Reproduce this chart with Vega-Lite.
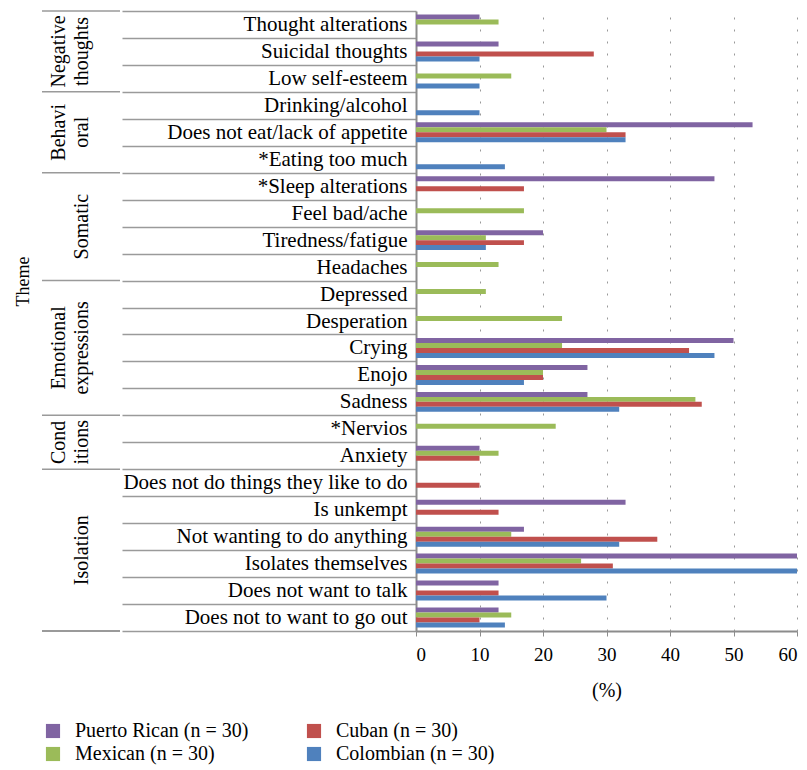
{
  "$schema": "https://vega.github.io/schema/vega-lite/v6.json",
  "padding": {"left": 14, "top": 0, "right": 0, "bottom": 2},
  "background": "white",
  "config": {
    "view": {"stroke": null},
    "font": "Liberation Serif",
    "axis": {"labelFont": "Liberation Serif", "titleFont": "Liberation Serif", "labelColor": "#000000", "titleColor": "#000000", "titleFontWeight": "normal"},
    "legend": {"labelFont": "Liberation Serif"},
    "text": {"font": "Liberation Serif"}
  },
  "datasets": {
    "themes": [
      {"theme": "Negative thoughts", "firstRow": 0, "midRow": 1.5, "line1": "Negative", "line2": "thoughts"},
      {"theme": "Behavioral", "firstRow": 3, "midRow": 4.5, "line1": "Behavi", "line2": "oral"},
      {"theme": "Somatic", "firstRow": 6, "midRow": 8, "line1": "", "line2": "Somatic"},
      {"theme": "Emotional expressions", "firstRow": 10, "midRow": 12.5, "line1": "Emotional", "line2": "expressions"},
      {"theme": "Conditions", "firstRow": 15, "midRow": 16, "line1": "Cond", "line2": "itions"},
      {"theme": "Isolation", "firstRow": 17, "midRow": 20, "line1": "", "line2": "Isolation"}
    ],
    "symptoms": [
      {"symptom": "Thought alterations", "nationality": "Puerto Rican (n = 30)", "pct": 10},
      {"symptom": "Thought alterations", "nationality": "Mexican (n = 30)", "pct": 13},
      {"symptom": "Suicidal thoughts", "nationality": "Puerto Rican (n = 30)", "pct": 13},
      {"symptom": "Suicidal thoughts", "nationality": "Cuban (n = 30)", "pct": 28},
      {"symptom": "Suicidal thoughts", "nationality": "Colombian (n = 30)", "pct": 10},
      {"symptom": "Low self-esteem", "nationality": "Mexican (n = 30)", "pct": 15},
      {"symptom": "Low self-esteem", "nationality": "Colombian (n = 30)", "pct": 10},
      {"symptom": "Drinking/alcohol", "nationality": "Colombian (n = 30)", "pct": 10},
      {"symptom": "Does not eat/lack of appetite", "nationality": "Puerto Rican (n = 30)", "pct": 53},
      {"symptom": "Does not eat/lack of appetite", "nationality": "Mexican (n = 30)", "pct": 30},
      {"symptom": "Does not eat/lack of appetite", "nationality": "Cuban (n = 30)", "pct": 33},
      {"symptom": "Does not eat/lack of appetite", "nationality": "Colombian (n = 30)", "pct": 33},
      {"symptom": "*Eating too much", "nationality": "Colombian (n = 30)", "pct": 14},
      {"symptom": "*Sleep alterations", "nationality": "Puerto Rican (n = 30)", "pct": 47},
      {"symptom": "*Sleep alterations", "nationality": "Cuban (n = 30)", "pct": 17},
      {"symptom": "Feel bad/ache", "nationality": "Mexican (n = 30)", "pct": 17},
      {"symptom": "Tiredness/fatigue", "nationality": "Puerto Rican (n = 30)", "pct": 20},
      {"symptom": "Tiredness/fatigue", "nationality": "Mexican (n = 30)", "pct": 11},
      {"symptom": "Tiredness/fatigue", "nationality": "Cuban (n = 30)", "pct": 17},
      {"symptom": "Tiredness/fatigue", "nationality": "Colombian (n = 30)", "pct": 11},
      {"symptom": "Headaches", "nationality": "Mexican (n = 30)", "pct": 13},
      {"symptom": "Depressed", "nationality": "Mexican (n = 30)", "pct": 11},
      {"symptom": "Desperation", "nationality": "Mexican (n = 30)", "pct": 23},
      {"symptom": "Crying", "nationality": "Puerto Rican (n = 30)", "pct": 50},
      {"symptom": "Crying", "nationality": "Mexican (n = 30)", "pct": 23},
      {"symptom": "Crying", "nationality": "Cuban (n = 30)", "pct": 43},
      {"symptom": "Crying", "nationality": "Colombian (n = 30)", "pct": 47},
      {"symptom": "Enojo", "nationality": "Puerto Rican (n = 30)", "pct": 27},
      {"symptom": "Enojo", "nationality": "Mexican (n = 30)", "pct": 20},
      {"symptom": "Enojo", "nationality": "Cuban (n = 30)", "pct": 20},
      {"symptom": "Enojo", "nationality": "Colombian (n = 30)", "pct": 17},
      {"symptom": "Sadness", "nationality": "Puerto Rican (n = 30)", "pct": 27},
      {"symptom": "Sadness", "nationality": "Mexican (n = 30)", "pct": 44},
      {"symptom": "Sadness", "nationality": "Cuban (n = 30)", "pct": 45},
      {"symptom": "Sadness", "nationality": "Colombian (n = 30)", "pct": 32},
      {"symptom": "*Nervios", "nationality": "Mexican (n = 30)", "pct": 22},
      {"symptom": "Anxiety", "nationality": "Puerto Rican (n = 30)", "pct": 10},
      {"symptom": "Anxiety", "nationality": "Mexican (n = 30)", "pct": 13},
      {"symptom": "Anxiety", "nationality": "Cuban (n = 30)", "pct": 10},
      {"symptom": "Does not do things they like to do", "nationality": "Cuban (n = 30)", "pct": 10},
      {"symptom": "Is unkempt", "nationality": "Puerto Rican (n = 30)", "pct": 33},
      {"symptom": "Is unkempt", "nationality": "Cuban (n = 30)", "pct": 13},
      {"symptom": "Not wanting to do anything", "nationality": "Puerto Rican (n = 30)", "pct": 17},
      {"symptom": "Not wanting to do anything", "nationality": "Mexican (n = 30)", "pct": 15},
      {"symptom": "Not wanting to do anything", "nationality": "Cuban (n = 30)", "pct": 38},
      {"symptom": "Not wanting to do anything", "nationality": "Colombian (n = 30)", "pct": 32},
      {"symptom": "Isolates themselves", "nationality": "Puerto Rican (n = 30)", "pct": 60},
      {"symptom": "Isolates themselves", "nationality": "Mexican (n = 30)", "pct": 26},
      {"symptom": "Isolates themselves", "nationality": "Cuban (n = 30)", "pct": 31},
      {"symptom": "Isolates themselves", "nationality": "Colombian (n = 30)", "pct": 60},
      {"symptom": "Does not want to talk", "nationality": "Puerto Rican (n = 30)", "pct": 13},
      {"symptom": "Does not want to talk", "nationality": "Cuban (n = 30)", "pct": 13},
      {"symptom": "Does not want to talk", "nationality": "Colombian (n = 30)", "pct": 30},
      {"symptom": "Does not to want to go out", "nationality": "Puerto Rican (n = 30)", "pct": 13},
      {"symptom": "Does not to want to go out", "nationality": "Mexican (n = 30)", "pct": 15},
      {"symptom": "Does not to want to go out", "nationality": "Cuban (n = 30)", "pct": 10},
      {"symptom": "Does not to want to go out", "nationality": "Colombian (n = 30)", "pct": 14}
    ]
  },
  "spacing": 0,
  "hconcat": [
    {
      "width": 78,
      "height": 620,
      "data": {"name": "themes"},
      "layer": [
        {
          "mark": {"type": "rule", "color": "#9a9a9a", "strokeWidth": 1.5},
          "encoding": {
            "y": {
              "field": "firstRow", "type": "quantitative",
              "scale": {"domain": [0, 23], "reverse": true, "nice": false, "zero": false},
              "axis": {"title": "Theme", "labels": false, "ticks": false, "domain": false, "grid": false, "titleFont": "Liberation Serif", "titleFontSize": 18, "titleFontWeight": "normal", "titleColor": "#000000", "titlePadding": 10, "titleY": 270}
            }
          }
        },
        {
          "mark": {"type": "rule", "color": "#9a9a9a", "strokeWidth": 1.5},
          "encoding": {"y": {"datum": 23, "type": "quantitative",
            "axis": {"title": "Theme", "labels": false, "ticks": false, "domain": false, "grid": false, "titleFont": "Liberation Serif", "titleFontSize": 18, "titleFontWeight": "normal", "titleColor": "#000000", "titlePadding": 10, "titleY": 270}}}
        },
        {
          "mark": {"type": "text", "angle": 270, "fontSize": 20, "font": "Liberation Serif", "baseline": "alphabetic", "align": "center", "dy": -16, "color": "#000000"},
          "encoding": {"y": {"field": "midRow", "type": "quantitative",
            "axis": {"title": "Theme", "labels": false, "ticks": false, "domain": false, "grid": false, "titleFont": "Liberation Serif", "titleFontSize": 18, "titleFontWeight": "normal", "titleColor": "#000000", "titlePadding": 10, "titleY": 270}}, "text": {"field": "line1"}}
        },
        {
          "mark": {"type": "text", "angle": 270, "fontSize": 20, "font": "Liberation Serif", "baseline": "alphabetic", "align": "center", "dy": 7, "color": "#000000"},
          "encoding": {"y": {"field": "midRow", "type": "quantitative",
            "axis": {"title": "Theme", "labels": false, "ticks": false, "domain": false, "grid": false, "titleFont": "Liberation Serif", "titleFontSize": 18, "titleFontWeight": "normal", "titleColor": "#000000", "titlePadding": 10, "titleY": 270}}, "text": {"field": "line2"}}
        }
      ]
    },
    {
      "width": 381,
      "height": 620,
      "data": {"name": "symptoms"},
      "mark": {"type": "bar"},
      "encoding": {
        "y": {
          "field": "symptom", "type": "nominal",
          "sort": ["Thought alterations", "Suicidal thoughts", "Low self-esteem", "Drinking/alcohol", "Does not eat/lack of appetite", "*Eating too much", "*Sleep alterations", "Feel bad/ache", "Tiredness/fatigue", "Headaches", "Depressed", "Desperation", "Crying", "Enojo", "Sadness", "*Nervios", "Anxiety", "Does not do things they like to do", "Is unkempt", "Not wanting to do anything", "Isolates themselves", "Does not want to talk", "Does not to want to go out"],
          "scale": {"paddingInner": 0, "paddingOuter": 0},
          "axis": {"title": null, "tickBand": "extent", "tickSize": 294, "tickColor": "#9a9a9a", "tickWidth": 1.5, "labelPadding": -285, "labelFont": "Liberation Serif", "labelFontSize": 21, "labelColor": "#000000", "labelLimit": 400, "domainColor": "#8c8c8c", "domainWidth": 2, "grid": false}
        },
        "yOffset": {
          "field": "nationality",
          "sort": ["Puerto Rican (n = 30)", "Mexican (n = 30)", "Cuban (n = 30)", "Colombian (n = 30)"],
          "scale": {"paddingInner": 0, "paddingOuter": 0.7}
        },
        "x": {
          "field": "pct", "type": "quantitative",
          "scale": {"domain": [0, 60], "nice": false},
          "axis": {"values": [0, 10, 20, 30, 40, 50, 60], "title": "(%)", "titleFont": "Liberation Serif", "titleFontSize": 20, "titleFontWeight": "normal", "titleColor": "#000000", "titlePadding": 16, "labelFont": "Liberation Serif", "labelFontSize": 19, "labelColor": "#000000", "labelPadding": 9, "tickSize": 5, "tickColor": "#8c8c8c", "domainColor": "#8c8c8c", "domainWidth": 2, "grid": true, "gridColor": "#999999", "gridDash": [2, 10], "gridWidth": 1}
        },
        "color": {
          "field": "nationality", "type": "nominal",
          "scale": {
            "domain": ["Puerto Rican (n = 30)", "Cuban (n = 30)", "Mexican (n = 30)", "Colombian (n = 30)"],
            "range": ["#8064A2", "#C0504D", "#9BBB59", "#4F81BD"]
          },
          "legend": {"title": null, "orient": "none", "legendX": 1, "legendY": 710, "columns": 2, "direction": "horizontal", "symbolType": "square", "symbolSize": 200, "symbolStrokeWidth": 0, "labelFont": "Liberation Serif", "labelFontSize": 20, "labelColor": "#000000", "labelLimit": 400, "labelOffset": 12, "columnPadding": 55, "rowPadding": 3}
        }
      }
    }
  ]
}
